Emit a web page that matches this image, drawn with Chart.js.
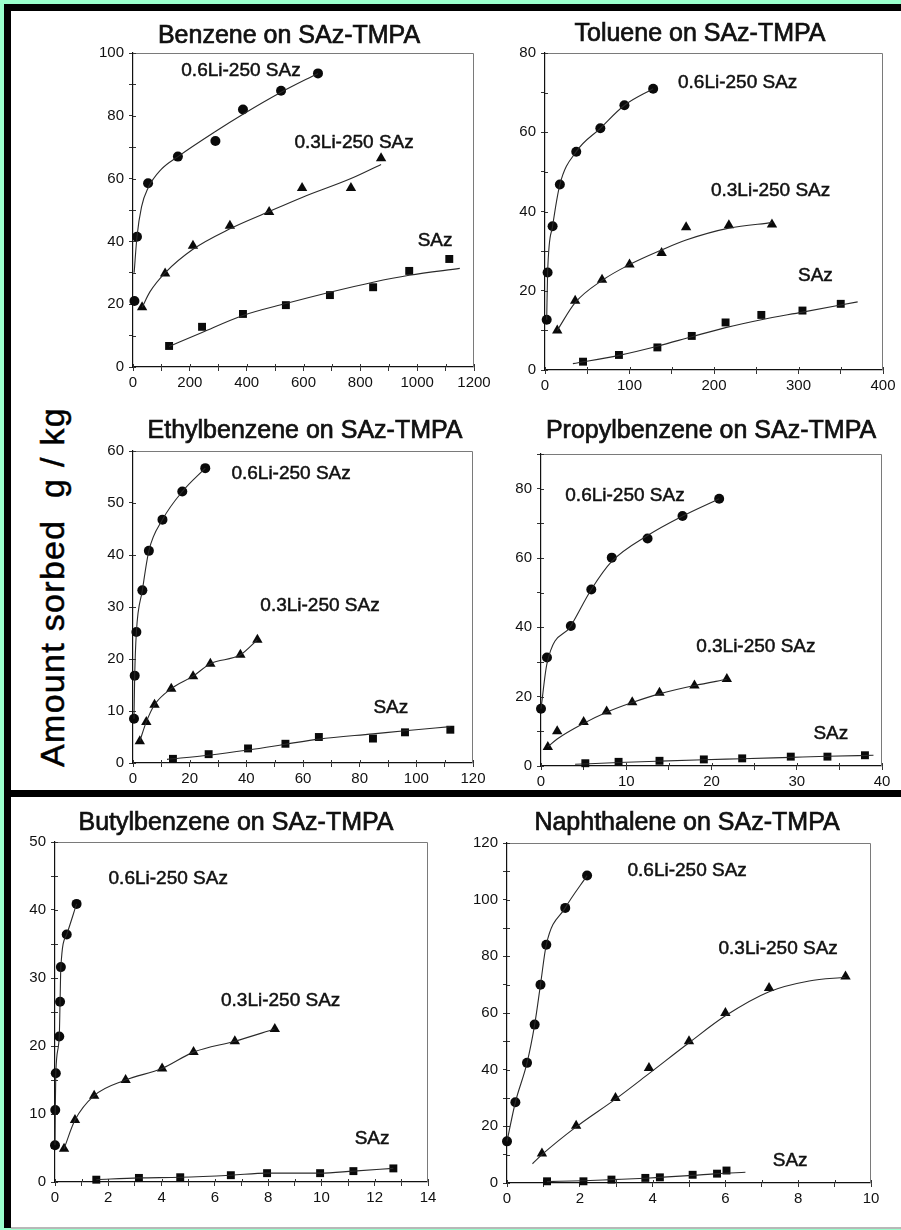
<!DOCTYPE html>
<html>
<head>
<meta charset="utf-8">
<script src="https://cdn.jsdelivr.net/npm/chart.js@4.4.1/dist/chart.umd.min.js"></script>
<style>
  html, body { margin: 0; padding: 0; }
  body { width: 901px; height: 1230px; background: #99ffcc; position: relative; overflow: hidden; }
  #frame { position: absolute; left: 4px; top: 4px; width: 897px; height: 1224px; background: #000; }
  .sheet { position: absolute; left: 11px; width: 890px; background: #fff; }
  #sheetTop { top: 11px; height: 779px; }
  #sheetBottom { top: 797px; height: 430px; }
  #edge { position: absolute; left: 11px; top: 1227px; width: 890px; height: 2px; background: #b8b8b8; }
  canvas { position: absolute; }
  #ytitle {
    position: absolute; left: -148px; top: 565px; width: 400px; height: 44px;
    line-height: 44px; text-align: center; white-space: pre;
    font-family: "Liberation Sans", Arial, sans-serif; font-size: 34px; letter-spacing: 1.3px;
    color: #000; transform: rotate(-90deg); -webkit-text-stroke: 0.5px #000;
  }
</style>
</head>
<body>
<div id="frame"></div>
<div class="sheet" id="sheetTop"></div>
<div class="sheet" id="sheetBottom"></div>
<div id="edge"></div>
<div id="ytitle">Amount sorbed  g / kg</div>

<script>
// ---- series names ----
const seriesNames = ['0.6Li-250 SAz', '0.3Li-250 SAz', 'SAz'];

// ---- Benzene: measured points and fitted curves (x, amount sorbed) ----
const benzeneLi06 = [[5,21],[14,41.5],[53,58.5],[158,67],[290,72],[387,82],[521,88],[651,93.5]];
const benzeneLi03 = [[32,19],[113,29.8],[211,38.6],[341,45],[479,49.4],[595,57],[767,57],[873,66.5]];
const benzeneSAz  = [[127,6.7],[243,12.8],[387,16.9],[538,19.7],[693,22.9],[845,25.4],[972,30.6],[1113,34.4]];
const benzeneFit06  = [[4,30],[14,41.5],[30,51],[53,57],[100,63],[158,67],[290,75],[387,80.5],[521,87.5],[651,93.5]];
const benzeneFit03  = [[32,19],[60,24],[113,30],[211,37.5],[341,44],[479,49.5],[595,54],[767,60],[873,64.5]];
const benzeneFitSAz = [[127,6.5],[243,11],[387,16.4],[538,20.2],[693,23.8],[845,27],[972,29.2],[1150,31.4]];
const benzeneXTicks = [0,200,400,600,800,1000,1200];
const benzeneYTicks = [0,20,40,60,80,100];

// ---- Toluene ----
const tolueneLi06 = [[2,12.7],[3.1,24.6],[9,36.3],[17.6,46.8],[37,55.1],[65.5,61],[94,66.8],[128,71]];
const tolueneLi03 = [[14.5,10],[35.7,17.5],[67.5,22.8],[100,26.6],[138,29.5],[167,36],[217.6,36.5],[268.6,36.7]];
const tolueneSAz  = [[45,2.1],[87.5,3.8],[133,5.7],[173.7,8.6],[213.7,12],[256,13.9],[304.7,15],[350,16.7]];
const tolueneFit03  = [[14.5,10],[35.7,17],[67.5,22.6],[100,26.6],[138,30.3],[167,32.8],[217.6,35.8],[268.6,37.2]];
const tolueneFitSAz = [[33,1.6],[87.5,3.7],[133,6],[173.7,8.4],[213.7,10.7],[256,12.7],[304.7,14.6],[370,17.2]];
const tolueneXTicks = [0,100,200,300,400];
const tolueneYTicks = [0,20,40,60,80];

// ---- Ethylbenzene ----
const ethylLi06 = [[0.35,8.5],[0.6,16.8],[1.2,25.2],[3.3,33.2],[5.6,40.8],[10.4,46.8],[17.4,52.2],[25.5,56.7]];
const ethylLi03 = [[2.4,4.2],[4.7,7.9],[7.6,11.2],[13.5,14.3],[21.2,16.7],[27.3,19.1],[37.9,20.8],[43.9,23.7]];
const ethylSAz  = [[14.1,0.8],[26.7,1.7],[40.6,2.8],[53.8,3.7],[65.6,5],[84.7,4.7],[96,5.9],[112,6.4]];
const ethylFitSAz = [[12,0.7],[26.7,1.5],[40.6,2.5],[53.8,3.6],[65.6,4.6],[84.7,5.6],[96,6.2],[112,7]];
const ethylXTicks = [0,20,40,60,80,100,120];
const ethylYTicks = [0,10,20,30,40,50,60];

// ---- Propylbenzene ----
const propylLi06 = [[0,16.5],[0.7,31.3],[3.5,40.4],[5.9,50.9],[8.3,60.1],[12.5,65.6],[16.6,72.1],[20.9,77.1]];
const propylLi03 = [[0.8,5.5],[1.9,10],[5,12.7],[7.7,15.7],[10.7,18.4],[13.9,21.1],[18,23.2],[21.8,25.1]];
const propylSAz  = [[5.2,0.8],[9.1,1.2],[13.9,1.5],[19.1,1.9],[23.6,2.2],[29.3,2.7],[33.6,2.7],[38,3.1]];
const propylFit06  = [[0,16.5],[0.7,29.5],[3.5,40.4],[5.9,50.9],[8.3,59],[12.5,66.5],[16.6,72.1],[20.9,77.1]];
const propylFit03  = [[0.8,5.5],[1.9,7.8],[5,12.3],[7.7,15.5],[10.7,18.3],[13.9,20.8],[18,23.2],[21.8,25]];
const propylFitSAz = [[4,0.5],[9.1,1],[13.9,1.4],[19.1,1.8],[23.6,2.1],[29.3,2.5],[33.6,2.8],[39,3.1]];
const propylXTicks = [0,10,20,30,40];
const propylYTicks = [0,20,40,60,80];

// ---- Butylbenzene ----
const butylLi06 = [[0,5.4],[0.01,10.6],[0.03,16],[0.16,21.4],[0.19,26.5],[0.22,31.6],[0.44,36.4],[0.81,40.9]];
const butylLi03 = [[0.34,4.9],[0.75,9.1],[1.47,12.7],[2.65,15],[4.02,16.7],[5.2,19.1],[6.75,20.7],[8.25,22.5]];
const butylSAz  = [[1.55,0.34],[3.15,0.6],[4.7,0.7],[6.6,1],[7.96,1.3],[9.95,1.3],[11.2,1.6],[12.7,2]];
const butylXTicks = [0,2,4,6,8,10,12,14];
const butylYTicks = [0,10,20,30,40,50];

// ---- Naphthalene ----
const naphLi06 = [[0,14.7],[0.23,28.5],[0.55,42.4],[0.76,55.9],[0.92,70],[1.08,84.1],[1.6,97.1],[2.2,108.5]];
const naphLi03 = [[0.96,10.4],[1.9,20.2],[2.98,30],[3.9,40.6],[5,50],[6,60],[7.2,68.8],[9.3,72.9]];
const naphSAz  = [[1.1,0.6],[2.1,0.6],[2.87,1.2],[3.8,1.8],[4.2,2],[5.1,2.9],[5.77,3.3],[6.03,4.4]];
const naphFit03  = [[0.7,6.8],[0.96,10],[1.9,19.8],[2.98,29.6],[3.9,38.6],[5,49.5],[6,59],[7.2,67.5],[8.3,71.3],[9.3,72.6]];
const naphFitSAz = [[1.1,0.5],[2.1,0.8],[2.87,1.2],[3.8,1.7],[4.2,2],[5.1,2.7],[5.77,3.3],[6.55,3.8]];
const naphXTicks = [0,2,4,6,8,10];
const naphYTicks = [0,20,40,60,80,100,120];

// ---- drawing ----
const FONT = '"Liberation Sans", Arial, Helvetica, sans-serif';
const INK = '#111';
const Y_AXIS_W = 45, X_AXIS_H = 30, PAD_TOP = 60, PAD_RIGHT = 22;

const toPoints = arr => arr.map(([x, y]) => ({ x, y }));
const stepsTo = (max, step) => {
  const out = [];
  const n = Math.round(max / step);
  for (let i = 0; i <= n; i++) out.push(Math.round(i * step * 1000) / 1000);
  return out;
};
const isLabelled = (v, list) => list.some(t => Math.abs(t - v) < 1e-6);

// frame, inward tick marks, title and curve labels
const panelDecor = {
  id: 'panelDecor',
  beforeDatasetsDraw(chart) {
    const { ctx, chartArea: a, scales } = chart;
    ctx.save();
    ctx.strokeStyle = '#7a7a7a';
    ctx.lineWidth = 1;
    ctx.beginPath();
    ctx.moveTo(a.left, a.top + 0.5);
    ctx.lineTo(a.right - 0.5, a.top + 0.5);
    ctx.lineTo(a.right - 0.5, a.bottom);
    ctx.stroke();
    ctx.strokeStyle = '#333';
    ctx.beginPath();
    scales.x.ticks.forEach(t => {
      const px = Math.round(scales.x.getPixelForValue(t.value)) + 0.5;
      ctx.moveTo(px, a.bottom);
      ctx.lineTo(px, a.bottom - 3);
    });
    scales.y.ticks.forEach(t => {
      const py = Math.round(scales.y.getPixelForValue(t.value)) + 0.5;
      ctx.moveTo(a.left, py);
      ctx.lineTo(a.left + 3, py);
    });
    ctx.stroke();
    ctx.restore();
  },
  afterDatasetsDraw(chart, args, opts) {
    const { ctx, scales } = chart;
    ctx.save();
    ctx.fillStyle = INK;
    ctx.strokeStyle = INK;
    ctx.textAlign = 'center';
    ctx.textBaseline = 'middle';
    ctx.font = '25px ' + FONT;
    ctx.lineWidth = 0.7;
    const tx = opts.titlePos[0] - opts.origin[0], ty = opts.titlePos[1] - opts.origin[1] + 1;
    ctx.fillText(opts.title, tx, ty);
    ctx.strokeText(opts.title, tx, ty);
    ctx.font = '19px ' + FONT;
    ctx.lineWidth = 0.5;
    opts.labels.forEach((lab, i) => {
      const lx = scales.x.getPixelForValue(lab[0]), ly = scales.y.getPixelForValue(lab[1]) + 1;
      ctx.fillText(seriesNames[i], lx, ly);
      ctx.strokeText(seriesNames[i], lx, ly);
    });
    ctx.restore();
  }
};

const markerStyles = [
  { pointStyle: 'circle', pointRadius: 5 },
  { pointStyle: 'triangle', pointRadius: 6 },
  { pointStyle: 'rect', pointRadius: 5.6 }
];

function makePanel(p) {
  const [L, T, R, B] = p.area;
  const canvas = document.createElement('canvas');
  canvas.width = R - L + Y_AXIS_W + PAD_RIGHT;
  canvas.height = B - T + PAD_TOP + X_AXIS_H;
  const origin = [L - Y_AXIS_W, T - PAD_TOP];
  canvas.style.left = origin[0] + 'px';
  canvas.style.top = origin[1] + 'px';
  document.body.appendChild(canvas);

  // fitted curves underneath, measured points on top
  const curves = p.curves.map(c => ({
    data: toPoints(c),
    showLine: true,
    cubicInterpolationMode: 'monotone',
    borderColor: '#2a2a2a',
    borderWidth: 1.1,
    pointRadius: 0,
    clip: false
  }));
  const markers = p.series.map((s, i) => ({
    data: toPoints(s),
    showLine: false,
    backgroundColor: '#0a0a0a',
    pointBackgroundColor: '#0a0a0a',
    pointBorderColor: '#0a0a0a',
    pointBorderWidth: 0,
    pointStyle: markerStyles[i].pointStyle,
    pointRadius: markerStyles[i].pointRadius,
    clip: false
  }));

  const tickFont = { family: FONT, size: 15 };

  new Chart(canvas, {
    type: 'scatter',
    data: { datasets: curves.concat(markers) },
    options: {
      responsive: false,
      animation: false,
      devicePixelRatio: 1,
      events: [],
      layout: { padding: { top: PAD_TOP, right: PAD_RIGHT, left: 0, bottom: 0 } },
      plugins: {
        legend: { display: false },
        tooltip: { enabled: false },
        panelDecor: { title: p.title, titlePos: p.titlePos, origin, labels: p.labels }
      },
      scales: {
        x: {
          type: 'linear', min: 0, max: p.xTicks[p.xTicks.length - 1],
          afterBuildTicks: s => { s.ticks = stepsTo(s.max, p.xMinor).map(v => ({ value: v })); },
          afterFit: s => { s.height = X_AXIS_H; },
          ticks: {
            autoSkip: false, maxRotation: 0, padding: 3, color: INK, font: tickFont,
            callback: v => isLabelled(v, p.xTicks) ? String(v) : ''
          },
          grid: { drawOnChartArea: false, drawTicks: true, tickLength: 4, color: '#333' },
          border: { color: '#111', width: 1.2 }
        },
        y: {
          type: 'linear', min: 0, max: p.yMax,
          afterBuildTicks: s => { s.ticks = stepsTo(s.max, p.yMinor).map(v => ({ value: v })); },
          afterFit: s => { s.width = Y_AXIS_W; },
          ticks: {
            autoSkip: false, padding: 5, color: INK, font: tickFont,
            callback: v => isLabelled(v, p.yTicks) ? String(v) : ''
          },
          grid: { drawOnChartArea: false, drawTicks: true, tickLength: 4, color: '#333' },
          border: { color: '#111', width: 1.2 }
        }
      }
    },
    plugins: [panelDecor]
  });
}

const panels = [
  { title: 'Benzene on SAz-TMPA', titlePos: [289, 35], area: [133, 53, 474, 367],
    series: [benzeneLi06, benzeneLi03, benzeneSAz],
    curves: [benzeneFit06, benzeneFit03, benzeneFitSAz],
    xTicks: benzeneXTicks, xMinor: 100, yTicks: benzeneYTicks, yMax: 100, yMinor: 10,
    labels: [[380, 94.6], [778, 71.7], [1063, 40.4]] },
  { title: 'Toluene on SAz-TMPA', titlePos: [700, 33], area: [545, 53, 883, 370],
    series: [tolueneLi06, tolueneLi03, tolueneSAz],
    curves: [tolueneLi06, tolueneFit03, tolueneFitSAz],
    xTicks: tolueneXTicks, xMinor: 50, yTicks: tolueneYTicks, yMax: 80, yMinor: 10,
    labels: [[228, 72.7], [267, 45.4], [320, 24]] },
  { title: 'Ethylbenzene on SAz-TMPA', titlePos: [305, 430], area: [133, 451, 473, 763],
    series: [ethylLi06, ethylLi03, ethylSAz],
    curves: [ethylLi06, ethylLi03, ethylFitSAz],
    xTicks: ethylXTicks, xMinor: 10, yTicks: ethylYTicks, yMax: 60, yMinor: 10,
    labels: [[55.8, 55.8], [66, 30.4], [91, 10.8]] },
  { title: 'Propylbenzene on SAz-TMPA', titlePos: [711, 430], area: [541, 454, 882, 766],
    series: [propylLi06, propylLi03, propylSAz],
    curves: [propylFit06, propylFit03, propylFitSAz],
    xTicks: propylXTicks, xMinor: 5, yTicks: propylYTicks, yMax: 90, yMinor: 10,
    labels: [[9.85, 78.2], [25.2, 34.7], [34, 9.5]] },
  { title: 'Butylbenzene on SAz-TMPA', titlePos: [236, 822], area: [55, 842, 428, 1182],
    series: [butylLi06, butylLi03, butylSAz],
    curves: [butylLi06, butylLi03, butylSAz],
    xTicks: butylXTicks, xMinor: 1, yTicks: butylYTicks, yMax: 50, yMinor: 5,
    labels: [[4.25, 44.7], [8.47, 26.8], [11.9, 6.5]] },
  { title: 'Naphthalene on SAz-TMPA', titlePos: [687, 822], area: [507, 843, 871, 1183],
    series: [naphLi06, naphLi03, naphSAz],
    curves: [naphLi06, naphFit03, naphFitSAz],
    xTicks: naphXTicks, xMinor: 1, yTicks: naphYTicks, yMax: 120, yMinor: 10,
    labels: [[4.95, 110.5], [7.45, 83], [7.78, 8.1]] }
];

panels.forEach(makePanel);
</script>
</body>
</html>
